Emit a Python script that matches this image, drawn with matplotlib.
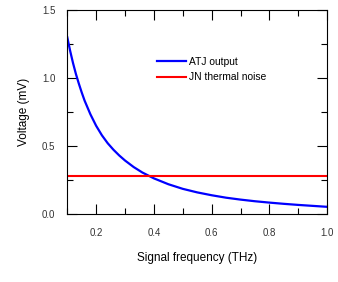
import matplotlib
matplotlib.use("Agg")
import matplotlib.pyplot as plt
from matplotlib.ticker import MultipleLocator

plt.rcParams['font.family'] = ['Liberation Sans', 'DejaVu Sans']

# values
freq = [0.10, 0.11, 0.12, 0.13, 0.14, 0.15, 0.16, 0.18, 0.20, 0.22,
        0.24, 0.26, 0.28, 0.30, 0.33, 0.36, 0.40, 0.45, 0.50, 0.55,
        0.60, 0.65, 0.70, 0.75, 0.80, 0.85, 0.90, 0.95, 1.00]
atj_output = [1.30, 1.20, 1.11, 1.03, 0.96, 0.895, 0.835, 0.735, 0.65, 0.58,
              0.522, 0.474, 0.432, 0.395, 0.347, 0.307, 0.264, 0.221, 0.187, 0.161,
              0.14, 0.122, 0.108, 0.096, 0.086, 0.077, 0.069, 0.062, 0.055]
noise_freq = [0.1, 1.0]
noise_level = [0.285, 0.285]

fig = plt.figure(figsize=(3.38, 2.82), dpi=100)
ax = fig.add_axes([0.199, 0.24, 0.769, 0.7245])

ax.plot(freq, atj_output, color='#0000ff', lw=1.6, label='ATJ output')
ax.plot(noise_freq, noise_level, color='#ff0000', lw=1.5, label='JN thermal noise')

ax.set_xlim(0.1, 1.0)
ax.set_ylim(0, 1.5)
ax.xaxis.set_major_locator(MultipleLocator(0.2))
ax.xaxis.set_minor_locator(MultipleLocator(0.1))
ax.yaxis.set_major_locator(MultipleLocator(0.5))
ax.yaxis.set_minor_locator(MultipleLocator(0.25))

ax.tick_params(which='both', direction='in', top=True, right=True, width=0.8,
               labelsize=7, labelcolor='#333333')
ax.tick_params(which='major', length=7)
ax.tick_params(which='minor', length=4)
ax.tick_params(axis='x', pad=10)
ax.tick_params(axis='y', pad=8.5)
for s in ax.spines.values():
    s.set_linewidth(0.8)

ax.set_xlabel('Signal frequency (THz)', fontsize=8.5, labelpad=10)
ax.set_ylabel('Voltage (mV)', fontsize=8.5, labelpad=9)

ax.legend(loc='upper left', bbox_to_anchor=(0.33, 0.79), frameon=False,
          fontsize=7.4, handlelength=2.8, handletextpad=0.3, labelspacing=0.5,
          borderaxespad=0)

fig.savefig('out.png', dpi=100)
